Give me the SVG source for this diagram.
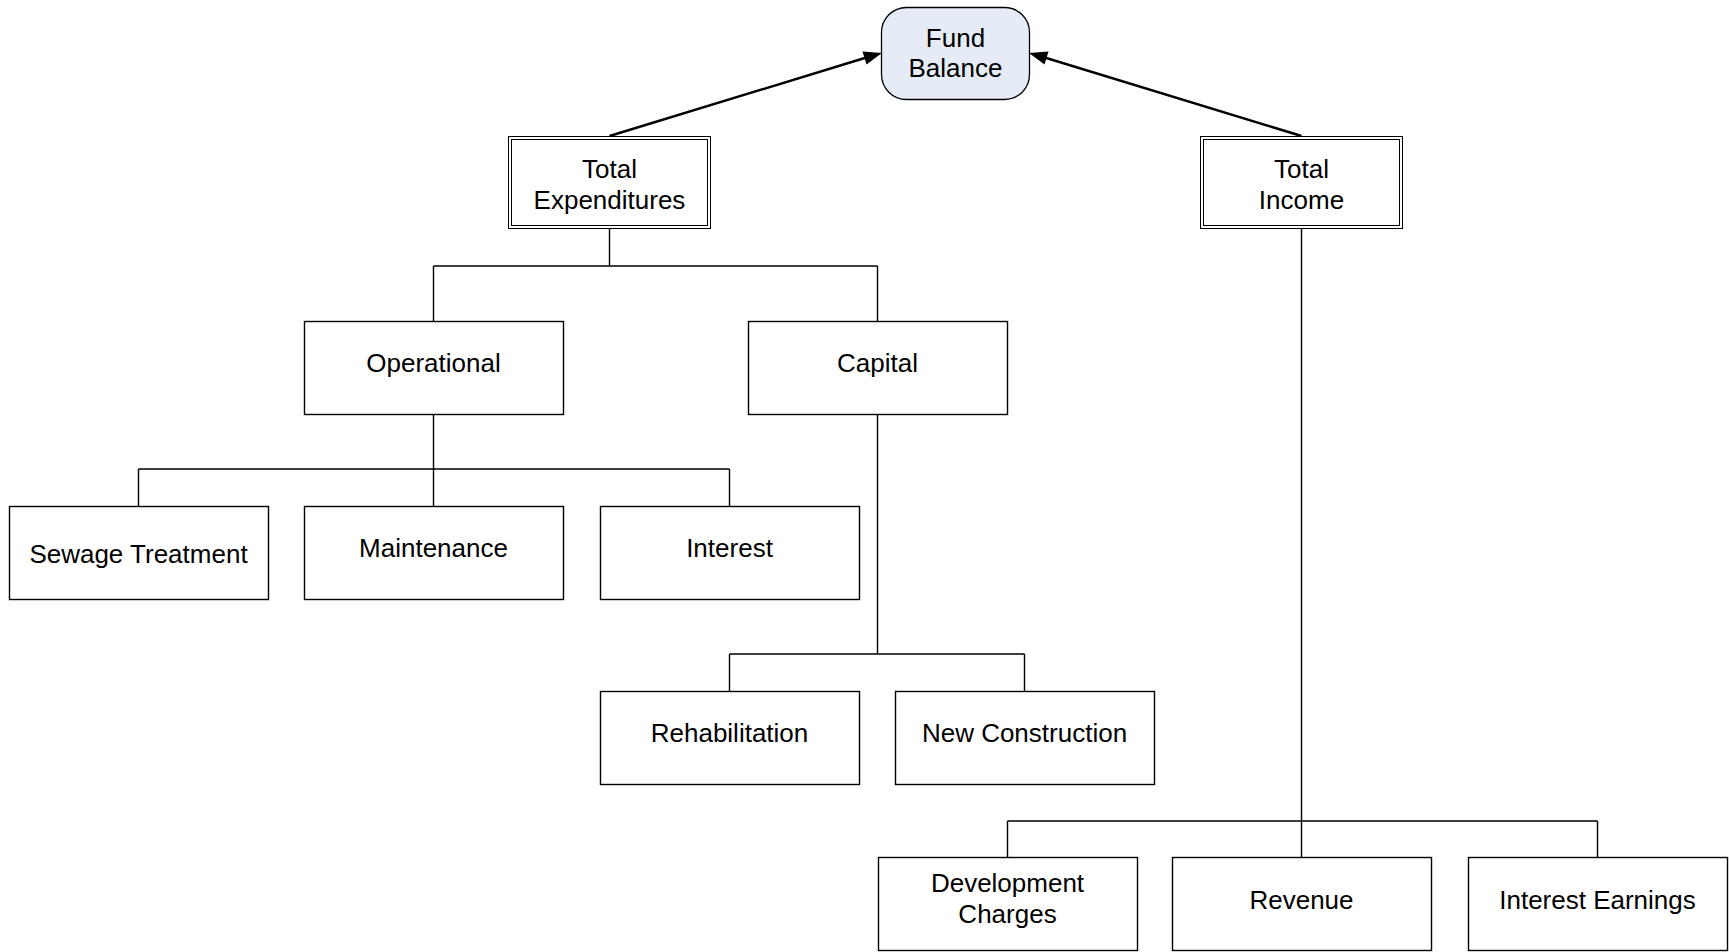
<svg xmlns="http://www.w3.org/2000/svg" width="1729" height="952" viewBox="0 0 1729 952">
<style>
.box{fill:#fff;stroke:#000;stroke-width:1.4}
.dbl{fill:#fff;stroke:#000;stroke-width:1}
.fund{fill:#E6ECF7;stroke:#000;stroke-width:1.3}
.t{font-family:"Liberation Sans",Arial,sans-serif;font-size:26px;fill:#000;text-anchor:middle}
.c{fill:none;stroke:#000;stroke-width:1.4}
.a{fill:none;stroke:#000;stroke-width:2.4}
.ah{fill:#000}
</style>
<rect width="1729" height="952" fill="#fff"/>
<g id="connectors">
<path class="a" d="M609.5,136 L868,57"/>
<path class="a" d="M1301.5,136 L1043,57"/>
<path class="ah" d="M882,53 L862.5,51.5 L866.5,64.5 z"/>
<path class="ah" d="M1029,53 L1048.5,51.5 L1044.5,64.5 z"/>
<path class="c" d="M609.5,229 V266 M433.5,266 H877.5 M433.5,266 V321 M877.5,266 V321"/>
<path class="c" d="M433.5,414 V506 M138.5,469 H729.5 M138.5,469 V506 M729.5,469 V506"/>
<path class="c" d="M877.5,414 V654 M729.5,654 H1024.5 M729.5,654 V691 M1024.5,654 V691"/>
<path class="c" d="M1301.5,229 V857 M1007.5,821 H1597.5 M1007.5,821 V857 M1597.5,821 V857"/>
</g>
<g id="fund-balance">
<rect class="fund" x="881.5" y="7.5" width="148" height="92" rx="25" ry="25"/>
<text class="t" x="955.5" y="47">Fund</text>
<text class="t" x="955.5" y="77">Balance</text>
</g>
<g id="total-expenditures">
<rect class="dbl" x="508.5" y="136.5" width="202" height="92"/>
<rect class="dbl" x="511.5" y="139.5" width="196" height="86"/>
<text class="t" x="609.5" y="178">Total</text>
<text class="t" x="609.5" y="209">Expenditures</text>
</g>
<g id="total-income">
<rect class="dbl" x="1200.5" y="136.5" width="202" height="92"/>
<rect class="dbl" x="1203.5" y="139.5" width="196" height="86"/>
<text class="t" x="1301.5" y="178">Total</text>
<text class="t" x="1301.5" y="209">Income</text>
</g>
<g id="operational">
<rect class="box" x="304.5" y="321.5" width="259" height="93"/>
<text class="t" x="433.5" y="372">Operational</text>
</g>
<g id="capital">
<rect class="box" x="748.5" y="321.5" width="259" height="93"/>
<text class="t" x="877.5" y="372">Capital</text>
</g>
<g id="sewage-treatment">
<rect class="box" x="9.5" y="506.5" width="259" height="93"/>
<text class="t" x="138.5" y="563">Sewage Treatment</text>
</g>
<g id="maintenance">
<rect class="box" x="304.5" y="506.5" width="259" height="93"/>
<text class="t" x="433.5" y="557">Maintenance</text>
</g>
<g id="interest">
<rect class="box" x="600.5" y="506.5" width="259" height="93"/>
<text class="t" x="729.5" y="557">Interest</text>
</g>
<g id="rehabilitation">
<rect class="box" x="600.5" y="691.5" width="259" height="93"/>
<text class="t" x="729.5" y="742">Rehabilitation</text>
</g>
<g id="new-construction">
<rect class="box" x="895.5" y="691.5" width="259" height="93"/>
<text class="t" x="1024.5" y="742">New Construction</text>
</g>
<g id="development-charges">
<rect class="box" x="878.5" y="857.5" width="259" height="93"/>
<text class="t" x="1007.5" y="892">Development</text>
<text class="t" x="1007.5" y="923">Charges</text>
</g>
<g id="revenue">
<rect class="box" x="1172.5" y="857.5" width="259" height="93"/>
<text class="t" x="1301.5" y="909">Revenue</text>
</g>
<g id="interest-earnings">
<rect class="box" x="1468.5" y="857.5" width="259" height="93"/>
<text class="t" x="1597.5" y="909">Interest Earnings</text>
</g>
</svg>
